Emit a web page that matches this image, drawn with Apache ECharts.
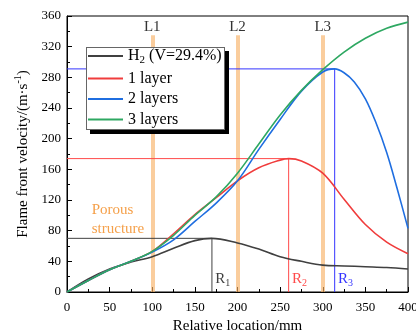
<!DOCTYPE html>
<html><head><meta charset="utf-8">
<script src="https://cdn.jsdelivr.net/npm/echarts@6/dist/echarts.min.js"></script>
<style>html,body{margin:0;padding:0;background:#fff}#c{width:416px;height:334px}</style>
</head><body><div id="c"></div>
<script>
// ---- data ----
const h2X = [0,25,50,75,100,125,150,170,200,225,250,275,300,325,350,375,400];
const h2Y = [0,17,30,39,46,57,67,70,64,56,46,40,35,34,33,32,30];
const l1X = [0,25,50,75,100,125,150,175,200,225,250,260,275,300,325,350,375,400];
const l1Y = [0,15,29,40,53,76,101,123,145,162,172,174,171,155,121,88,65,50];
const l2X = [0,25,50,75,100,125,150,175,200,225,250,275,300,314,325,337,350,362,375,387,400];
const l2Y = [0,15,29,40,52,68,92,116,145,186,225,262,287,291,286,274,252,222,182,136,83];
const l3X = [0,25,50,75,100,125,150,175,200,225,250,275,300,325,350,375,400];
const l3Y = [0,15,29,40,53,74,100,124,155,193,231,263,290,313,331,344,352];
const seriesNames = ['H2 (V=29.4%)','1 layer','2 layers','3 layers'];
const xTicks = {min:0, max:400, interval:50};
const yTicks = {min:0, max:360, interval:40};
const bandX = [100,200,300];
const bandLabels = ['L1','L2','L3'];
const bandTop = 335;
const peakX = [170,260,314];
const peakY = [70,174,291];
const peakLabels = ['1','2','3'];
const porousText = 'Porous\nstructure';

const pairs = (xs, ys) => xs.map((x,i)=>[x,ys[i]]);
const colors = ['#404040','#f03c3c','#1f6ee0','#2ea862'];
const refColors = ['#404040','#ff4a4a','#3434ff'];
const serif = '"Liberation Serif","Times New Roman",serif';

const chart = echarts.init(document.getElementById('c'));
const bandMark = {
  silent:true, symbol:'none', z:1,
  lineStyle:{color:'rgba(247,178,105,0.65)', width:4, type:'solid'},
  label:{show:true, position:'end', distance:1, color:'#333', fontFamily:serif, fontSize:15},
  data: bandX.map((x,i)=>[{coord:[x,0], label:{formatter:bandLabels[i]}},{coord:[x,bandTop]}])
};
function peakPoint(i){
  return {
    silent:true, symbol:'circle', symbolSize:1, itemStyle:{color:'rgba(0,0,0,0)'},
    label:{show:true, position:'right', distance:2, fontFamily:serif,
      formatter:'{a|R}{s|'+peakLabels[i]+'}',
      rich:{a:{fontSize:15,color:refColors[i],fontFamily:serif},
            s:{fontSize:10,color:refColors[i],fontFamily:serif,padding:[9,0,0,0]}}},
    data:[{coord:[peakX[i]+1,17]}]
  };
}
const data = [pairs(h2X,h2Y),pairs(l1X,l1Y),pairs(l2X,l2Y),pairs(l3X,l3Y)];
const series = [];
peakX.forEach((px,i)=>{
  series.push({name:'ref'+i, type:'line', data:[[0,peakY[i]],[px,peakY[i]],[px,0]],
    showSymbol:false, silent:true, z:2, lineStyle:{color:refColors[i], width:1},
    itemStyle:{color:refColors[i]}, markPoint: peakPoint(i)});
});
data.forEach((d,i)=>{
  series.push({name: seriesNames[i], type:'line', data:d, smooth:0.35, showSymbol:false,
    lineStyle:{color:colors[i], width:1.6}, itemStyle:{color:colors[i]}, z:3});
});
series.push({name:'deco', type:'line', data:[], z:1, silent:true,
  markLine: bandMark,
  markPoint:{
    silent:true, symbol:'circle', symbolSize:1, itemStyle:{color:'rgba(0,0,0,0)'},
    label:{show:true, position:'inside', formatter:porousText, color:'#f5a04a',
      fontFamily:serif, fontSize:15, lineHeight:19, align:'left'},
    data:[{coord:[29,94]}]
  }
});
// legend frame (white panel, grey border, black drop shadow) drawn as strokes
const seg = (x1,y1,x2,y2,color,width) =>
  [{x:x1, y:y1, lineStyle:{color:color, width:width, type:'solid', opacity:1}}, {x:x2, y:y2}];
series.push({name:'box', type:'line', data:[], z:8, silent:true,
  markLine:{silent:true, symbol:'none', z:8, label:{show:false}, emphasis:{disabled:true},
    data:[
      seg(227,51,227,134,'#000',4),
      seg(90,132,229,132,'#000',4),
      seg(86,88.5,225,88.5,'#fff',83),
      seg(86,47.5,225,47.5,'#666',1),
      seg(86,129.5,225,129.5,'#666',1),
      seg(86.5,47,86.5,130,'#666',1),
      seg(224.5,47,224.5,130,'#666',1)
    ]}
});

chart.setOption({
  animation:false,
  textStyle:{fontFamily:serif},
  grid:{left:67, right:8, top:16, bottom:42, show:true, borderColor:'#000', borderWidth:1,
        containLabel:false, outerBoundsMode:'none'},
  legend:{
    left:86, top:47, width:135, orient:'vertical', itemGap:4.5,
    itemWidth:35, itemHeight:2, icon:'rect', z:20, selectedMode:false,
    padding:[1,4,1,2], backgroundColor:'transparent',
    textStyle:{fontFamily:serif, fontSize:16, color:'#000',
      rich:{a:{fontSize:16,fontFamily:serif,color:'#000'},
            s:{fontSize:11,fontFamily:serif,color:'#000',padding:[9,0,0,0]}}},
    formatter: n => n==='H2 (V=29.4%)' ? '{a|H}{s|2}{a| (V=29.4%)}' : n,
    data: seriesNames
  },
  xAxis:{type:'value', min:xTicks.min, max:xTicks.max, interval:xTicks.interval,
    name:'Relative location/mm', nameLocation:'middle', nameGap:26,
    nameTextStyle:{fontSize:15, color:'#000', fontFamily:serif},
    axisLine:{lineStyle:{color:'#000'}},
    axisTick:{inside:true, length:5, lineStyle:{color:'#000'}},
    minorTick:{show:true, splitNumber:2, length:3, lineStyle:{color:'#000'}},
    axisLabel:{fontSize:13, color:'#000', fontFamily:serif, margin:9},
    splitLine:{show:false}},
  yAxis:{type:'value', min:yTicks.min, max:yTicks.max, interval:yTicks.interval,
    name:'{a|Flame front velocity/(m·s}{s|-1}{a|)}', nameLocation:'middle', nameGap:34,
    nameTextStyle:{fontSize:15, color:'#000', fontFamily:serif,
      rich:{a:{fontSize:15,fontFamily:serif,color:'#000'},
            s:{fontSize:10,fontFamily:serif,color:'#000',padding:[0,0,9,0]}}},
    axisLine:{lineStyle:{color:'#000'}},
    axisTick:{inside:true, length:5, lineStyle:{color:'#000'}},
    minorTick:{show:true, splitNumber:2, length:3, lineStyle:{color:'#000'}},
    axisLabel:{fontSize:13, color:'#000', fontFamily:serif, margin:6},
    splitLine:{show:false}},
  series: series
});
</script></body></html>
